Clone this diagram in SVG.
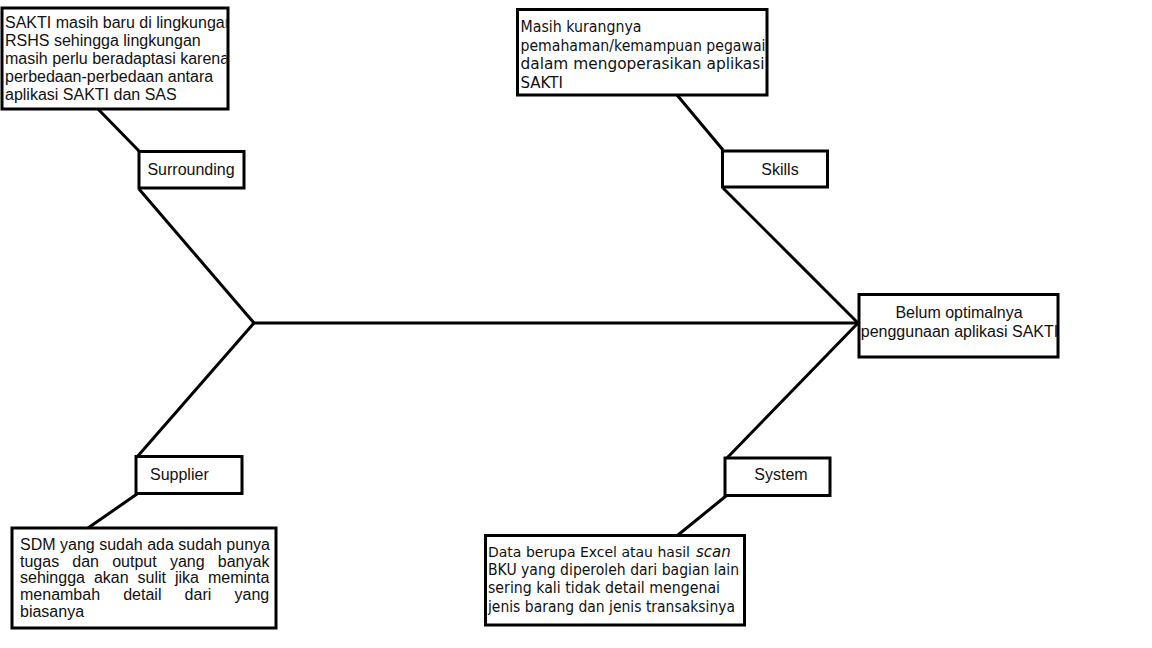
<svg xmlns="http://www.w3.org/2000/svg" width="1152" height="648" viewBox="0 0 1152 648">
<style>
.box{fill:#fff;stroke:#000;stroke-width:3}
.ln{stroke:#000;stroke-width:3;fill:none}
.a{font-family:"Liberation Sans",Arial,sans-serif;font-size:16px;fill:#111}
.t{font-family:"DejaVu Sans",Tahoma,sans-serif;font-size:15px;fill:#111}
.c{text-anchor:middle}
</style>
<defs>
<clipPath id="clipS"><rect x="3.5" y="9.5" width="223" height="98"/></clipPath>
</defs>
<rect width="1152" height="648" fill="#fff"/>
<g id="connectors">
<line class="ln" x1="253" y1="323" x2="858" y2="323"/>
<line class="ln" x1="139" y1="189" x2="254" y2="323"/>
<line class="ln" x1="254" y1="323" x2="137" y2="457"/>
<line class="ln" x1="723" y1="188" x2="858" y2="323"/>
<line class="ln" x1="858" y1="323" x2="726" y2="459"/>
<line class="ln" x1="98" y1="109" x2="139" y2="151"/>
<line class="ln" x1="677" y1="95" x2="723" y2="150"/>
<line class="ln" x1="137" y1="494" x2="88" y2="528"/>
<line class="ln" x1="726" y1="496" x2="678" y2="535"/>
</g>
<g id="surrounding-cause">
<rect class="box" x="2" y="8" width="226" height="101"/>
<g clip-path="url(#clipS)">
<text class="a" x="5" y="27.5">SAKTI masih baru di lingkungan</text>
<text class="a" x="5" y="45.7">RSHS sehingga lingkungan</text>
<text class="a" x="5" y="64">masih perlu beradaptasi karena</text>
<text class="a" x="5" y="82.2">perbedaan-perbedaan antara</text>
<text class="a" x="5" y="100.4">aplikasi SAKTI dan SAS</text>
</g>
</g>
<g id="surrounding">
<rect class="box" x="139" y="151.5" width="105" height="36.5"/>
<text class="a c" x="191" y="175">Surrounding</text>
</g>
<g id="skills-cause">
<rect class="box" x="517.5" y="9.5" width="249.5" height="85.5"/>
<text class="t" x="520.5" y="32" textLength="121" lengthAdjust="spacingAndGlyphs">Masih kurangnya</text>
<text class="t" x="520.5" y="50.5" textLength="245" lengthAdjust="spacingAndGlyphs">pemahaman/kemampuan pegawai</text>
<text class="t" x="520.5" y="69" textLength="244" lengthAdjust="spacingAndGlyphs">dalam mengoperasikan aplikasi</text>
<text class="t" x="520.5" y="87.5">SAKTI</text>
</g>
<g id="skills">
<rect class="box" x="722.5" y="151" width="105" height="36"/>
<text class="a c" x="780" y="175">Skills</text>
</g>
<g id="effect">
<rect class="box" x="859" y="294.5" width="199" height="62.5"/>
<text class="a c" x="959" y="318.3">Belum optimalnya</text>
<text class="a c" x="959.5" y="336.7">penggunaan aplikasi SAKTI</text>
</g>
<g id="supplier">
<rect class="box" x="136" y="456.5" width="106" height="37"/>
<text class="a" x="150" y="480">Supplier</text>
</g>
<g id="supplier-cause">
<rect class="box" x="12" y="528" width="264" height="100"/>
<text class="a" x="20" y="550">SDM yang sudah ada sudah punya</text>
<text class="a" y="566.7"><tspan x="20">tugas</tspan><tspan x="72.3">dan</tspan><tspan x="112.2">output</tspan><tspan x="169.9">yang</tspan><tspan x="217.8">banyak</tspan></text>
<text class="a" y="583.3"><tspan x="20">sehingga</tspan><tspan x="93.9">akan</tspan><tspan x="137.6">sulit</tspan><tspan x="175">jika</tspan><tspan x="208">meminta</tspan></text>
<text class="a" y="600"><tspan x="20">menambah</tspan><tspan x="123.2">detail</tspan><tspan x="184.6">dari</tspan><tspan x="234.5">yang</tspan></text>
<text class="a" x="20" y="616.7">biasanya</text>
</g>
<g id="system">
<rect class="box" x="725" y="458" width="105" height="37.5"/>
<text class="a c" x="781" y="480">System</text>
</g>
<g id="system-cause">
<rect class="box" x="485.5" y="535.5" width="259" height="89.5"/>
<text class="t" x="488" y="556.7" style="font-size:14px">Data berupa Excel atau hasil</text>
<text class="t" x="696" y="556.7" font-style="italic">scan</text>
<text class="t" x="488" y="575" textLength="251" lengthAdjust="spacingAndGlyphs">BKU yang diperoleh dari bagian lain</text>
<text class="t" x="488" y="593.3" textLength="232" lengthAdjust="spacingAndGlyphs">sering kali tidak detail mengenai</text>
<text class="t" x="488" y="611.7" textLength="247" lengthAdjust="spacingAndGlyphs">jenis barang dan jenis transaksinya</text>
</g>
</svg>
